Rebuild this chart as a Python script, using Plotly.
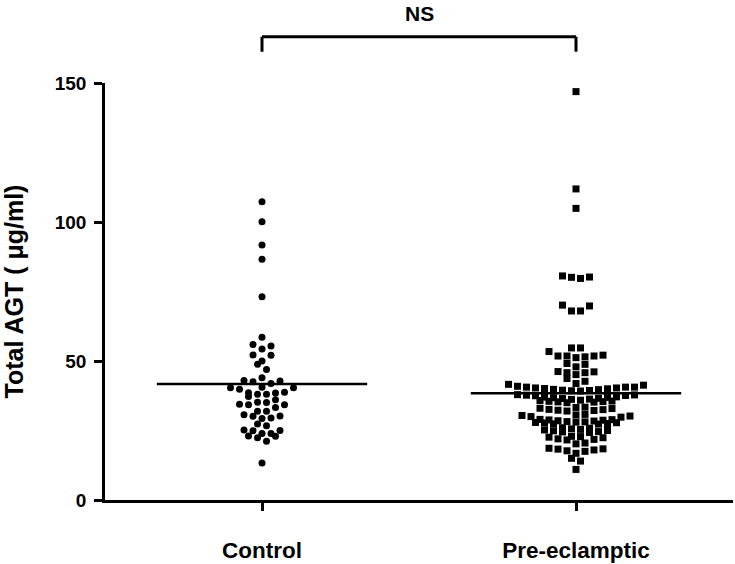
import plotly.graph_objects as go

# ---------------- data ----------------
categories = ["Control", "Pre-eclamptic"]

control_values = [
    107.3, 100.1, 91.7, 86.6, 73.1,
    58.5, 55.4, 55.9, 54.3, 52.1, 52.2, 50.0, 48.8, 46.9,
    44.0, 42.8, 41.9, 42.5, 43.0, 40.4, 40.4, 40.6, 39.8,
    38.8, 38.5, 38.0, 37.2, 38.0, 38.6,
    36.1, 35.1, 34.4, 33.3, 34.3, 34.3, 35.2,
    31.9, 30.2, 29.5, 29.3, 30.1, 30.7, 31.9,
    27.3, 26.7, 25.2, 24.9, 25.0,
    23.9, 22.9, 22.4, 23.0, 23.9, 21.1, 13.3,
]

preeclamptic_values = [
    146.9, 111.9, 104.9,
    80.2, 79.7, 80.1, 80.6,
    70.1, 68.0, 68.0, 69.8,
    54.7, 54.7,
    52.1, 51.8, 51.5, 51.2, 51.8, 51.8, 53.4,
    49.1, 47.9, 48.8,
    46.1, 45.8, 45.1, 43.7, 45.8, 46.2,
    41.9, 41.3, 40.6, 40.6, 40.3, 40.3, 40.6, 40.9, 41.6, 42.7,
    40.0, 39.8, 39.5, 39.3, 39.2, 39.4, 39.7, 40.1,
    37.8, 37.6, 37.5, 37.7, 37.9,
    37.0, 36.8, 36.2, 35.8, 35.5, 35.3, 35.2, 35.4, 35.6, 35.9, 36.3, 36.6, 36.9, 37.1, 36.5, 35.0,
    33.4, 33.0, 32.6, 32.3, 32.0, 32.2, 32.5, 32.9, 33.3,
    30.8, 30.4, 30.0, 29.8, 30.2, 30.6,
    29.0, 28.8, 28.5, 28.2, 28.0, 27.8, 27.5, 27.3, 27.4, 27.7, 27.9, 28.1, 28.4, 28.7, 28.9,
    26.0, 25.6, 25.2, 24.9, 24.5, 24.3, 24.6, 25.0, 25.4, 25.8,
    22.6, 22.8, 22.4, 22.9,
    21.8, 21.6, 22.0,
    20.5, 20.2,
    18.6, 18.3, 18.0, 17.7, 17.5, 18.4,
    16.8,
    15.0, 14.0,
    11.0,
]

mean_values = [41.7, 38.4]
y_tick_values = [0, 50, 100, 150]
significance_label = "NS"
y_title = "Total AGT ( μg/ml)"

# ---------------- layout constants ----------------
W, H = 735, 564
ML, MR, MT, MB = 105, 2, 83, 64
X_RANGE = [-0.5, 1.5]
Y_RANGE = [0, 150]
px_per_x = (W - ML - MR) / (X_RANGE[1] - X_RANGE[0])
px_per_y = (H - MT - MB) / (Y_RANGE[1] - Y_RANGE[0])


def row_offsets(vals, row_px=7.0, step_px=9.0):
    """Prism-like scatter dot layout: values within one marker height form a row,
    rows are centred on the category, lowest values nearest the centre."""
    order = sorted(range(len(vals)), key=lambda i: vals[i])
    rows, cur, start = [], [], None
    for i in order:
        if start is None or (vals[i] - start) * px_per_y >= row_px:
            if cur:
                rows.append(cur)
            cur, start = [i], vals[i]
        else:
            cur.append(i)
    if cur:
        rows.append(cur)
    offs = [0.0] * len(vals)
    for row in rows:
        n = len(row)
        slots = [k - (n - 1) / 2 for k in range(n)]
        slots.sort(key=lambda s: (abs(s), -s))
        for i, s in zip(row, slots):
            offs[i] = s * step_px / px_per_x
    return offs


FONT = "Liberation Sans, Arial, sans-serif"

fig = go.Figure()

groups = [(control_values, "circle"), (preeclamptic_values, "square")]
for gi, (vals, sym) in enumerate(groups):
    offs = row_offsets(vals)
    fig.add_trace(go.Scatter(
        x=[gi + o for o in offs], y=vals, mode="markers",
        marker=dict(symbol=sym, size=7, color="black", line=dict(width=0)),
        cliponaxis=False, showlegend=False, hoverinfo="y",
    ))
    fig.add_trace(go.Scatter(
        x=[gi - 0.335, gi + 0.335], y=[mean_values[gi]] * 2, mode="lines",
        line=dict(color="black", width=2.5), showlegend=False, hoverinfo="skip",
    ))

# significance bracket
bracket_top = 1.111
bracket_leg = 1.075
for x0, x1, y0, y1 in [(0, 1, bracket_top, bracket_top),
                       (0, 0, bracket_top, bracket_leg),
                       (1, 1, bracket_top, bracket_leg)]:
    fig.add_shape(type="line", xref="x", yref="paper", x0=x0, x1=x1, y0=y0, y1=y1,
                  line=dict(color="black", width=3))
fig.add_annotation(x=0.5, xref="x", y=1.167, yref="paper", text=f"<b>{significance_label}</b>",
                   showarrow=False, font=dict(family=FONT, size=21, color="black"),
                   xanchor="center", yanchor="middle")

fig.update_layout(
    width=W, height=H,
    margin=dict(l=ML, r=MR, t=MT, b=MB),
    paper_bgcolor="white", plot_bgcolor="white",
    font=dict(family=FONT, color="black"),
    xaxis=dict(
        range=X_RANGE, tickmode="array", tickvals=[0, 1],
        ticktext=[f"<b>{c}</b>" for c in categories],
        ticks="outside", ticklen=8, tickwidth=2.5, tickcolor="black",
        showline=True, linewidth=2.5, linecolor="black",
        showgrid=False, zeroline=False, automargin=False,
        tickfont=dict(family=FONT, size=22.5, color="black"),
        ticklabelstandoff=20,
    ),
    yaxis=dict(
        range=Y_RANGE, tickmode="array", tickvals=y_tick_values,
        ticktext=[f"<b>{v}</b>" for v in y_tick_values],
        ticks="outside", ticklen=8, tickwidth=2.5, tickcolor="black",
        showline=True, linewidth=2.5, linecolor="black",
        showgrid=False, zeroline=False, automargin=False,
        tickfont=dict(family=FONT, size=19, color="black"),
        ticklabelstandoff=4,
        title=dict(text=f"<b>{y_title}</b>", font=dict(family=FONT, size=25, color="black"),
                   standoff=28),
    ),
)

fig.write_html(
    "out.html",
    config={"displayModeBar": False},
    post_script="document.body.style.margin='0px';document.body.style.overflow='hidden';",
)
